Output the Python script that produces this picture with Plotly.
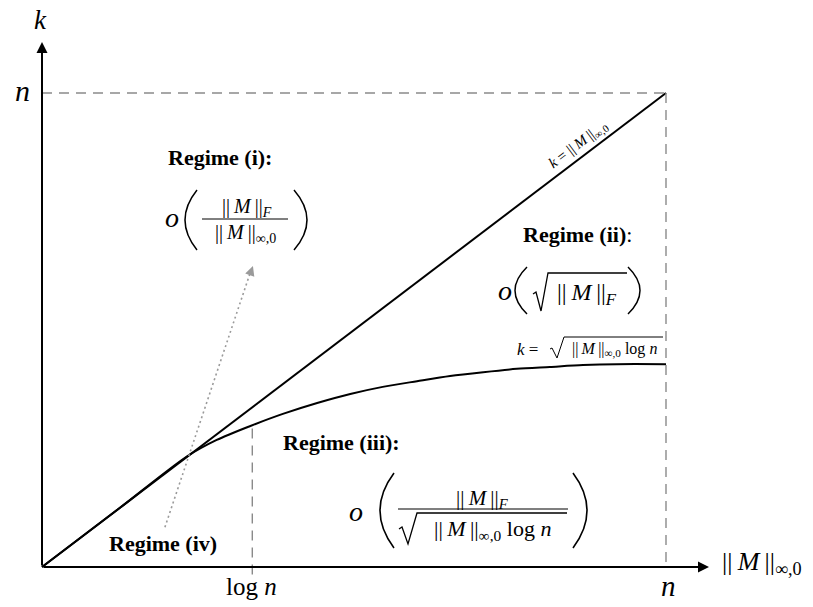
import plotly.graph_objects as go

# ---- data (in units of n) ----
diag_x = [0.0, 1.0]
diag_y = [0.0, 1.0]
curve_x = [0.0, 0.125, 0.232, 0.280, 0.333, 0.386, 0.441, 0.494, 0.546, 0.601,
           0.654, 0.707, 0.761, 0.814, 0.867, 0.921, 1.0]
curve_y = [0.0, 0.125, 0.233, 0.268, 0.297, 0.323, 0.346, 0.365, 0.380, 0.392,
           0.403, 0.411, 0.418, 0.422, 0.426, 0.428, 0.428]
log_n = 0.337
arrow_x = [0.197, 0.335]
arrow_y = [0.084, 0.626]

# body margin is removed in the page -> figure fills screen px 0..813 / 0..607
PAD = 0
W, H = 813, 607
OX, OY, SX, SY = 42, 567, 624, 474   # screen px of origin and of (n, n)


def X(px):
    return (px - OX) / SX


def Y(py):
    return (OY - py) / SY


SERIF = "Liberation Serif, Times New Roman, serif"
GRAY = "#8a8a8a"
TS = "\u2009"
NORM = "||" + TS + "<i>M</i>" + TS + "||"

fig = go.Figure()
fig.add_trace(go.Scatter(x=diag_x, y=diag_y, mode="lines",
                         line=dict(color="black", width=2), hoverinfo="skip"))
fig.add_trace(go.Scatter(x=curve_x, y=curve_y, mode="lines",
                         line=dict(color="black", width=2, shape="spline", smoothing=0.8),
                         hoverinfo="skip"))
fig.add_trace(go.Scatter(x=arrow_x, y=arrow_y, mode="lines",
                         line=dict(color="#9a9a9a", width=1.6, dash="2px,3px"), hoverinfo="skip"))

shapes = []
dash = "10px,7px"
shapes.append(dict(type="line", x0=0, x1=1, y0=1, y1=1, line=dict(color=GRAY, width=1.4, dash=dash)))
shapes.append(dict(type="line", x0=1, x1=1, y0=1, y1=0, line=dict(color=GRAY, width=1.4, dash=dash)))
shapes.append(dict(type="line", x0=log_n, x1=log_n, y0=0.292, y1=-0.022,
                   line=dict(color=GRAY, width=1.4, dash=dash)))


def poly(pts, w=1.2):
    d = "M" + " L".join(f"{X(a):.5f},{Y(b):.5f}" for a, b in pts)
    shapes.append(dict(type="path", path=d, line=dict(color="black", width=w)))


def paren(x_tip, x_end, y0, y1, w=1.5):
    xc = 2 * x_tip - x_end
    d = f"M{X(x_end):.5f},{Y(y0):.5f} Q{X(xc):.5f},{Y((y0 + y1) / 2):.5f} {X(x_end):.5f},{Y(y1):.5f}"
    shapes.append(dict(type="path", path=d, line=dict(color="black", width=w)))


ann = []


def txt(px, py, s, size, angle=0, xanchor="center"):
    ann.append(dict(x=X(px), y=Y(py), text=s, showarrow=False, xref="x", yref="y",
                    font=dict(family=SERIF, size=size, color="black"),
                    xanchor=xanchor, yanchor="middle", textangle=angle))


# axes arrows
ann.append(dict(x=X(709), y=0, ax=0, ay=0, axref="x", ayref="y", xref="x", yref="y",
                text="", showarrow=True, arrowhead=2, arrowsize=1.1, arrowwidth=2, arrowcolor="black"))
ann.append(dict(x=0, y=Y(42), ax=0, ay=0, axref="x", ayref="y", xref="x", yref="y",
                text="", showarrow=True, arrowhead=2, arrowsize=1.1, arrowwidth=2, arrowcolor="black"))
# dotted arrow head
ann.append(dict(x=arrow_x[1] + 0.003, y=arrow_y[1] + 0.009, ax=arrow_x[1] - 0.002, ay=arrow_y[1] - 0.01,
                axref="x", ayref="y", xref="x", yref="y", text="", showarrow=True,
                arrowhead=2, arrowsize=1.2, arrowwidth=1.6, arrowcolor="#9a9a9a"))

# axis labels / ticks
txt(40, 20, "<i>k</i>", 27)
txt(22, 90, "<i>n</i>", 30)
txt(251, 586, "log <i>n</i>", 25)
txt(668, 586, "<i>n</i>", 29)
txt(720, 563, NORM + "<sub>∞,0</sub>", 26, xanchor="left")

# Regime (i)
txt(220, 157, "<b>Regime (i):</b>", 22)
txt(172, 217, "<i>o</i>", 28)
paren(185, 197, 190, 250)
paren(307, 294, 190, 250)
txt(247, 207, NORM + "<sub><i>F</i></sub>", 20)
poly([(202, 219), (288, 219)], 1.0)
txt(245, 233, NORM + "<sub>∞,0</sub>", 20)

# Regime (ii)
txt(577, 234, "<b>Regime (ii)</b>:", 22)
txt(505, 290, "<i>o</i>", 28)
paren(515, 527, 267, 314)
paren(640, 628, 267, 314)
poly([(533, 294), (536, 292), (541, 311), (548, 273), (627, 273)], 1.3)
txt(587, 294, NORM + "<sub><i>F</i></sub>", 24)

# diagonal label
txt(578, 145, "<i>k</i> = " + NORM + "<sub>∞,0</sub>", 15, angle=-37)

# curve label
txt(527, 349, "<i>k</i> =", 17)
poly([(550, 349), (552, 348), (557, 358), (564, 337), (663, 337)], 1.0)
txt(614, 349, NORM + "<sub>∞,0</sub> log <i>n</i>", 16)

# Regime (iii)
txt(341, 442, "<b>Regime (iii):</b>", 22)
txt(356, 511, "<i>o</i>", 28)
paren(380, 394, 473, 548, 1.6)
paren(587, 573, 473, 548, 1.6)
txt(482, 499, NORM + "<sub><i>F</i></sub>", 21)
poly([(398, 509), (568, 509)], 1.1)
poly([(399, 529), (402, 527), (408, 544), (417, 513), (567, 513)], 1.3)
txt(492, 530, NORM + "<sub>∞,0</sub> log <i>n</i>", 22)

# Regime (iv)
txt(163, 543, "<b>Regime (iv)</b>", 22)

fig.update_layout(
    width=W, height=H, margin=dict(l=0, r=0, t=0, b=0),
    paper_bgcolor="white", plot_bgcolor="white", showlegend=False,
    xaxis=dict(range=[X(PAD), X(PAD + W)], visible=False, fixedrange=True),
    yaxis=dict(range=[Y(PAD + H), Y(PAD)], visible=False, fixedrange=True),
    shapes=shapes, annotations=ann,
)

fig.write_html("out.html", config={"displayModeBar": False},
               post_script="document.body.style.margin='0';document.body.style.overflow='hidden';")
